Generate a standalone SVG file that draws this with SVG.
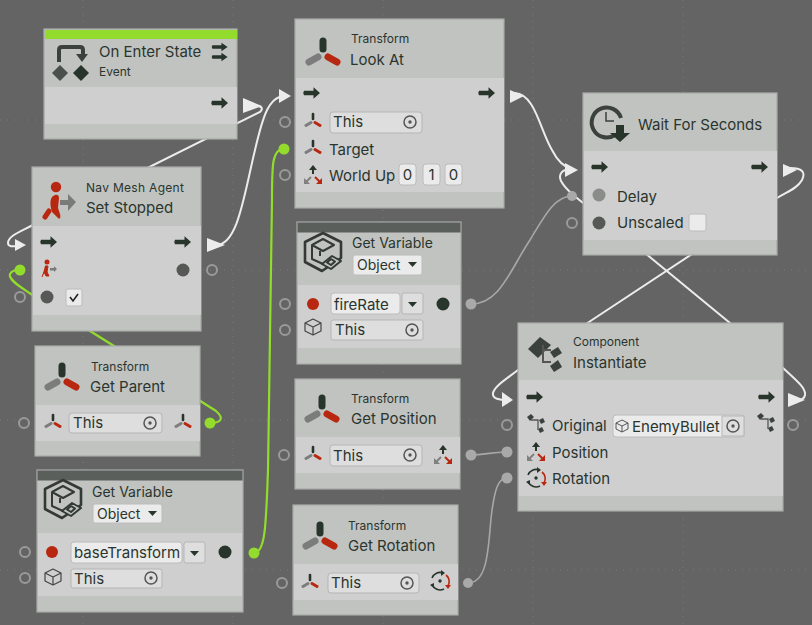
<svg xmlns="http://www.w3.org/2000/svg" width="812" height="625" viewBox="0 0 812 625">
<style>
text{font-family:"Inter","Liberation Sans",sans-serif;fill:#2a352e}
.t{font-size:15px}.s{font-size:12px}.m{font-size:14px}
.node{fill:#c1c3c0;stroke:#a9aba9;stroke-width:1.2}
.body{fill:#cfcfcf}
.top{fill:#5b5f5c}
.field{fill:#dedede;stroke:#b5b5b5}
.box{fill:#ebebeb;stroke:#bcbcbc}
.open{fill:none;stroke:#9a9a9a;stroke-width:2}
.gp{fill:#a9a9a9}
.flow{fill:none;stroke:#ececec;stroke-width:2}
.val{fill:none;stroke:#a8a8a8;stroke-width:1.6}
.green{fill:none;stroke:#93dc2d;stroke-width:2.2}
.tri{fill:#ececec}
.grid{stroke:#7b7b7b;stroke-width:1;stroke-dasharray:1 6;fill:none}
</style>
<defs>
<path id="flowi" d="M-8,-2.2H1.500V-5.800L8,0L1.500,5.800V2.200H-8Q-9.500,0-8,-2.200Z" fill="#28352b"/>
<g id="tf">
<path d="M0,-14V-6" stroke="#28352b" stroke-width="7" stroke-linecap="round"/>
<path d="M5,2L14,7" stroke="#b8270f" stroke-width="7" stroke-linecap="round"/>
<path d="M-5,2L-14,7" stroke="#7c7c7c" stroke-width="7" stroke-linecap="round"/>
</g>
<g id="tfs">
<path d="M0,-8V-3" stroke="#28352b" stroke-width="2.600" stroke-linecap="round"/>
<path d="M2,0.500L7,3.500" stroke="#b8270f" stroke-width="3" stroke-linecap="round"/>
<path d="M-2,0.500L-7,3.500" stroke="#7c7c7c" stroke-width="3" stroke-linecap="round"/>
</g>
<g id="tgt" fill="none" stroke="#555"><circle r="6" stroke-width="1.500"/><circle r="1.700" fill="#555" stroke="none"/></g>
<g id="pos">
<path d="M0,-9V-1" stroke="#28352b" stroke-width="2"/><path d="M-4,-5L0,-10L4,-5Z" fill="#28352b"/>
<path d="M-2,2L-8,8" stroke="#808080" stroke-width="2"/><path d="M-9,3V9H-3Z" fill="#808080"/>
<path d="M2,2L8,8" stroke="#b8270f" stroke-width="2"/><path d="M9,3V9H3Z" fill="#b8270f"/>
</g>
<g id="rot" fill="none" stroke-width="1.600">
<path d="M-8,-3A8.500,8.500 0 0 1 3,-8" stroke="#28352b"/>
<path d="M6,-6A8.500,8.500 0 0 1 8,5" stroke="#b8270f"/>
<path d="M-8,3A8.500,8.500 0 0 0 4,8" stroke="#28352b"/>
<path d="M1,-11L5,-8L1,-5Z" fill="#28352b" stroke="none"/>
<path d="M5,4H11L8,8Z" fill="#b8270f" stroke="none"/>
<path d="M-10,4L-6,2L-6,7Z" fill="#28352b" stroke="none"/>
<circle r="1.700" fill="#28352b" stroke="none"/>
</g>
<g id="cube" fill="none" stroke="#444" stroke-width="1.200" stroke-linejoin="round">
<path d="M0,-8L8,-4V4L0,8L-8,4V-4Z"/><path d="M-8,-4L0,0L8,-4M0,0V8"/>
</g>
<g id="var" fill="none" stroke="#333a35" stroke-width="2" stroke-linejoin="round">
<path d="M0,-20L18,-11V5L-1,18L-18,9V-11Z" stroke-width="2.600"/>
<path d="M0,-14L11,-8L0,-2L-11,-8Z"/>
<path d="M-11,-8V6L0,11M-3,-2V3"/>
<path d="M9,3L18,8L8,16L-1,11Z" fill="#c1c3c0"/>
<path d="M8,6L12,8.500L8,12L4,9.500Z"/>
</g>
<g id="comp" fill="#3b423d">
<path d="M-13,-9L-1,-21L10,-13L-3,0Z"/>
<path d="M9,-6L17,-11L21,-5L13,0Z"/>
<path d="M9,8L17,2L21,9L13,14Z"/>
<path d="M2,-13V4H10M2,-8H10" fill="none" stroke="#555" stroke-width="2"/>
</g>
<g id="comps" fill="#3b423d">
<path d="M-8,-8L-4,-11L-1,-8L-5,-4Z"/>
<path d="M4,-5L8,-7L10,-3L6,-1Z"/>
<path d="M3,4L7,2L9,6L5,8Z"/>
<path d="M-4,-5H3V5" fill="none" stroke="#555" stroke-width="1.300"/>
</g>
</defs>

<rect width="812" height="625" fill="#636463"/>
<g id="grid">
<path class="grid" d="M83,0V625M233,0V625M383,0V625M533,0V625M683,0V625M0,120H812M0,270H812M0,420H812M0,570H812"/>
</g>

<g id="connectors">
<path class="green" d="M254,553C266,553 266,520 268,470L272,200C272,165 272,149 284,149"/>
<path class="green" d="M210,423C222,423 224,418 216,411L114,346L31,294C22,288 8,280 10,274C12,270 16,270 20,270"/>
<path class="flow" d="M250,106C262,105 264,108 260,112L33,225C20,232 8,236 8,243C8,248 16,246 22,246"/>
<path class="flow" d="M216,245C238,245 244,195 255,150C262,120 268,96 285,96"/>
<path class="flow" d="M515,93C535,94 540,130 552,150C558,162 564,167 572,169"/>
<path class="flow" d="M572,169C562,169 558,174 561,181C566,190 574,196 600,216L730,323L783,368C796,380 806,388 805,395C804,400 800,400 795,400"/>
<path class="flow" d="M790,168C802,168 806,172 802,180C797,189 786,192 777,198L592,320L518,370C505,380 495,386 493,393C492,399 500,400 508,400"/>
<path class="val" d="M471,304C500,304 510,270 530,240C545,215 555,196 572,196"/>
<path class="val" d="M471,455C485,455 490,452 507,452"/>
<path class="val" d="M468,583C490,583 488,540 492,510C495,490 498,478 507,478"/>
</g>

<g id="ports">
<path class="tri" d="M243,98V113L262,106Z"/>
<path class="tri" d="M279,89V103L291,96Z"/>
<path class="tri" d="M15,239V251L26,245Z"/>
<path class="tri" d="M207,238V252L225,245Z"/>
<path class="tri" d="M510,90V103L524,96Z"/>
<path class="tri" d="M565,163V177L578,170Z"/>
<path class="tri" d="M783,164V177L797,170Z"/>
<path class="tri" d="M502,392V407L513,400Z"/>
<path class="tri" d="M788,393V407L805,400Z"/>
<circle cx="20" cy="270" r="5.500" fill="#93dc2d"/>
<circle cx="210" cy="423" r="5.500" fill="#93dc2d"/>
<circle cx="284" cy="149" r="5.500" fill="#93dc2d"/>
<circle cx="254" cy="553" r="5.500" fill="#93dc2d"/>
<circle class="gp" cx="471" cy="304" r="5.500"/><circle class="gp" cx="471" cy="455" r="5.500"/><circle class="gp" cx="468" cy="583" r="5"/>
<circle class="gp" cx="572" cy="196" r="5"/><circle class="gp" cx="507" cy="452" r="5.500"/><circle class="gp" cx="507" cy="478" r="5.500"/>
<circle class="open" cx="285" cy="122" r="5"/><circle class="open" cx="285" cy="175" r="5"/>
<circle class="open" cx="212" cy="270" r="5"/><circle class="open" cx="20" cy="297" r="5"/>
<circle class="open" cx="24" cy="423" r="5"/><circle class="open" cx="25" cy="552" r="5"/><circle class="open" cx="25" cy="578" r="5"/>
<circle class="open" cx="282" cy="583" r="5"/><circle class="open" cx="285" cy="304" r="5"/><circle class="open" cx="285" cy="330" r="5"/>
<circle class="open" cx="284" cy="455" r="5"/><circle class="open" cx="507" cy="425" r="5"/><circle class="open" cx="572" cy="223" r="5"/>
<circle class="open" cx="793" cy="425" r="5"/>
</g>

<g id="node-on-enter-state">
<rect class="node" x="44" y="29" width="193" height="110"/>
<rect x="45" y="30" width="192" height="9" fill="#93dc2d"/>
<rect class="body" x="45" y="87" width="192" height="37"/>
<path d="M59,62V50Q59,47 62,47H80Q83,47 83,50V56" fill="none" stroke="#3b423d" stroke-width="4"/>
<path d="M76,54H88L82,62Z" fill="#3b423d"/>
<path d="M60,65L68,73L60,81L52,73Z" fill="#4a504b"/><path d="M81,65L89,73L81,81L73,73Z" fill="#28352b"/>
<text class="t" x="99" y="57">On Enter State</text>
<text class="s" x="99" y="76">Event</text>
<use href="#flowi" transform="translate(220,47) scale(.95,.75)"/>
<use href="#flowi" transform="translate(220,57) scale(.95,.75)"/>
<use href="#flowi" x="220" y="103"/>
</g>

<g id="node-set-stopped">
<rect class="node" x="32" y="167" width="169" height="164"/>
<rect class="body" x="33" y="226" width="168" height="89"/>
<circle cx="56" cy="187" r="5.200" fill="#b8270f"/>
<path d="M55,195C49,197 50,205 52,212L56,216L58,218C60,220 61,217 60,214L58,208L59,198C59,195 57,194 55,195Z" fill="#b8270f"/>
<path d="M49,211L45,217" stroke="#b8270f" stroke-width="5" stroke-linecap="round"/>
<path d="M60,200H68V194L76,202L68,211V205H60Z" fill="#7a7a7a"/>
<text class="s" x="86" y="192" style="letter-spacing:.3px">Nav Mesh Agent</text>
<text class="t" x="86" y="213">Set Stopped</text>
<use href="#flowi" x="49" y="242"/><use href="#flowi" x="183" y="242"/>
<circle cx="47" cy="262" r="2.500" fill="#b8270f"/><path d="M45,266L48,266L47,272L49,276L46,276L44,272L42,277" fill="#b8270f" stroke="#b8270f"/>
<path d="M50,268H54V266L57,269L54,272V270.500H50Z" fill="#7a7a7a"/>
<circle cx="183" cy="270" r="6.500" fill="#565856"/>
<circle cx="47" cy="297" r="6.500" fill="#565856"/>
<rect class="box" x="66" y="289" width="16" height="17" rx="2"/>
<path d="M70,297L73,301L78,294" fill="none" stroke="#222" stroke-width="1.600"/>
</g>

<g id="node-get-parent">
<rect class="node" x="35" y="346" width="165" height="110"/>
<rect class="body" x="36" y="405" width="164" height="36"/>
<use href="#tf" x="62" y="380"/>
<text class="s" x="91" y="371">Transform</text>
<text class="t" x="90" y="392">Get Parent</text>
<use href="#tfs" x="53" y="423"/>
<rect class="field" x="69" y="413" width="93" height="20" rx="3"/>
<text class="t" x="73" y="428">This</text>
<use href="#tgt" x="150" y="423"/>
<use href="#tfs" x="183" y="423"/>
</g>

<g id="node-get-base-transform">
<rect class="node" x="37" y="470" width="206" height="142"/>
<rect class="top" x="37.500" y="470.500" width="205" height="10"/>
<rect class="body" x="38" y="533" width="204" height="63"/>
<use href="#var" x="63" y="500"/>
<text class="m" x="92" y="497">Get Variable</text>
<rect class="box" x="93" y="504" width="69" height="19" rx="2"/>
<text class="m" x="97" y="519">Object</text><path d="M148,511H157L152.500,516Z" fill="#28352b"/>
<circle cx="52" cy="552" r="6" fill="#b8270f"/>
<rect class="box" x="71" y="542" width="111" height="21" rx="3"/>
<text class="t" x="74" y="558">baseTransform</text>
<rect class="field" x="184" y="542" width="21" height="21" rx="2"/>
<path d="M190,551H199L194.500,556Z" fill="#28352b"/>
<circle cx="225" cy="552" r="6.500" fill="#28352b"/>
<use href="#cube" x="53" y="577"/>
<rect class="field" x="71" y="569" width="91" height="19" rx="2"/>
<text class="t" x="74" y="584">This</text>
<use href="#tgt" x="151" y="578"/>
</g>

<g id="node-look-at">
<rect class="node" x="295" y="19" width="209" height="189"/>
<rect class="body" x="296" y="78" width="208" height="114"/>
<use href="#tf" x="323" y="55"/>
<text class="s" x="351" y="43">Transform</text>
<text class="t" x="350" y="65">Look At</text>
<use href="#flowi" x="312" y="93"/><use href="#flowi" x="487" y="93"/>
<use href="#tfs" x="313" y="122"/>
<rect class="field" x="330" y="112" width="92" height="21" rx="3"/>
<text class="t" x="333" y="127">This</text>
<use href="#tgt" x="410" y="122"/>
<use href="#tfs" x="313" y="149"/>
<text class="t" x="329" y="155">Target</text>
<use href="#pos" x="313" y="175"/>
<text class="t" x="329" y="181">World Up</text>
<rect class="box" x="399" y="164" width="17" height="21" rx="3"/><rect class="box" x="423" y="164" width="17" height="21" rx="3"/><rect class="box" x="445" y="164" width="17" height="21" rx="3"/>
<text class="t" x="407.500" y="180" text-anchor="middle">0</text><text class="t" x="431.500" y="180" text-anchor="middle">1</text><text class="t" x="453.500" y="180" text-anchor="middle">0</text>
</g>

<g id="node-get-fire-rate">
<rect class="node" x="297" y="222" width="164" height="142"/>
<rect class="top" x="297.500" y="222.500" width="163" height="10"/>
<rect class="body" x="298" y="285" width="162" height="63"/>
<use href="#var" x="323" y="253"/>
<text class="m" x="352" y="248">Get Variable</text>
<rect class="box" x="353" y="255" width="69" height="20" rx="2"/>
<text class="m" x="357" y="270">Object</text><path d="M408,262H417L412.500,267Z" fill="#28352b"/>
<circle cx="313" cy="304" r="6" fill="#b8270f"/>
<rect class="box" x="331" y="293" width="69" height="21" rx="3"/>
<text class="t" x="334" y="310">fireRate</text>
<rect class="field" x="402" y="293" width="21" height="21" rx="2"/>
<path d="M408,302H417L412.500,307Z" fill="#28352b"/>
<circle cx="443" cy="304" r="6.500" fill="#28352b"/>
<use href="#cube" x="313" y="327"/>
<rect class="field" x="331" y="320" width="92" height="20" rx="2"/>
<text class="t" x="335" y="335">This</text>
<use href="#tgt" x="412" y="330"/>
</g>

<g id="node-get-position">
<rect class="node" x="295" y="379" width="165" height="110"/>
<rect class="body" x="296" y="437" width="164" height="36"/>
<use href="#tf" x="322" y="412"/>
<text class="s" x="351" y="403">Transform</text>
<text class="t" x="351" y="424">Get Position</text>
<use href="#tfs" x="313" y="455"/>
<rect class="field" x="330" y="445" width="92" height="21" rx="3"/>
<text class="t" x="333" y="461">This</text>
<use href="#tgt" x="410" y="455"/>
<use href="#pos" x="443" y="455"/>
</g>

<g id="node-get-rotation">
<rect class="node" x="293" y="505" width="165" height="110"/>
<rect class="body" x="294" y="564" width="164" height="36"/>
<use href="#tf" x="320" y="539"/>
<text class="s" x="348" y="530">Transform</text>
<text class="t" x="348" y="551">Get Rotation</text>
<use href="#tfs" x="310" y="583"/>
<rect class="field" x="328" y="573" width="91" height="20" rx="3"/>
<text class="t" x="331" y="588">This</text>
<use href="#tgt" x="407" y="583"/>
<use href="#rot" x="440" y="581"/>
</g>

<g id="node-wait-for-seconds">
<rect class="node" x="583" y="93" width="194" height="162"/>
<rect class="body" x="584" y="151" width="193" height="89"/>
<path d="M615,135A15,15 0 1 1 621,118" fill="none" stroke="#3b423d" stroke-width="4"/>
<path d="M606,112V121H614" fill="none" stroke="#3b423d" stroke-width="1.500"/>
<path d="M616,125H624V133H630L620,142L610,133H616Z" fill="#28352b"/>
<text class="t" x="638" y="130">Wait For Seconds</text>
<use href="#flowi" x="600" y="167"/><use href="#flowi" x="760" y="167"/>
<circle cx="599" cy="195" r="6.500" fill="#8a8c8a"/>
<text class="t" x="617" y="202">Delay</text>
<circle cx="599" cy="223" r="6.500" fill="#565856"/>
<text class="t" x="617" y="228">Unscaled</text>
<rect class="box" x="689" y="214" width="17" height="17" rx="2"/>
</g>

<g id="node-instantiate">
<rect class="node" x="518" y="323" width="265" height="188"/>
<rect class="body" x="519" y="380" width="264" height="116"/>
<use href="#comp" x="541" y="358"/>
<text class="s" x="573" y="346">Component</text>
<text class="t" x="573" y="368">Instantiate</text>
<use href="#flowi" x="535" y="397"/><use href="#flowi" x="767" y="397"/>
<use href="#comps" x="535" y="425"/>
<text class="t" x="552" y="431">Original</text>
<rect class="box" x="613" y="415" width="131" height="22" rx="3"/>
<rect class="field" x="722" y="416" width="22" height="20" stroke="none"/>
<use href="#cube" transform="translate(622,426) scale(.75)"/>
<text class="t" x="632" y="432">EnemyBullet</text>
<use href="#tgt" x="733" y="426"/>
<use href="#comps" x="765" y="424"/>
<use href="#pos" x="536" y="452"/>
<text class="t" x="552" y="458">Position</text>
<use href="#rot" x="536" y="478"/>
<text class="t" x="552" y="484">Rotation</text>
</g>
</svg>
